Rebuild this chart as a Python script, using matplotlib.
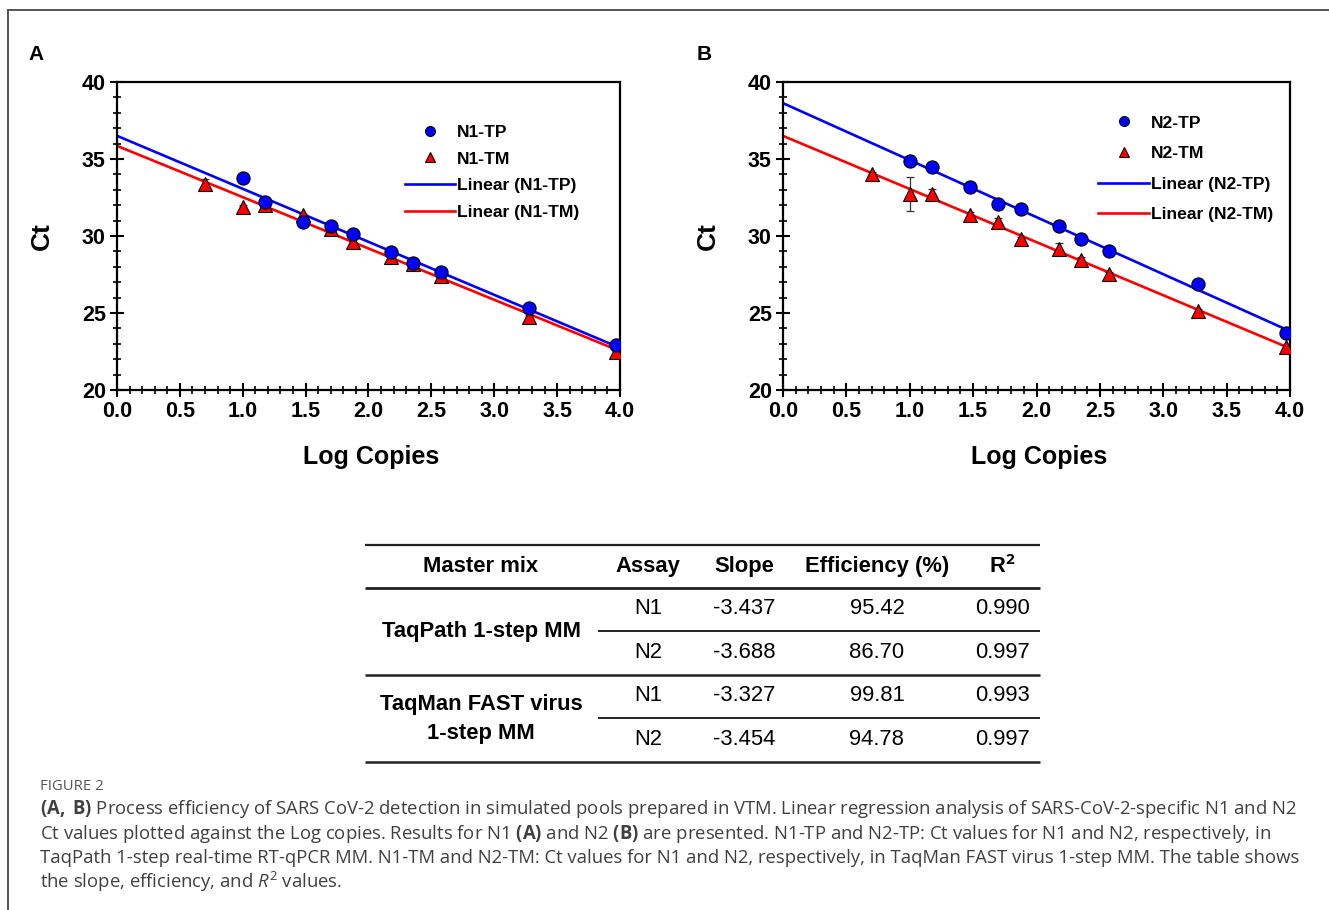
"""Figure 2: standard curves for N1 / N2 assays plus efficiency table."""
import matplotlib

matplotlib.use("Agg")
import matplotlib.pyplot as plt
from matplotlib.lines import Line2D
import numpy as np

# ---- data ----
log_copies = [0.699, 1.0, 1.176, 1.477, 1.699, 1.875, 2.176, 2.352, 2.574, 3.273, 3.97]

# panel A (N1); TP has no point at the lowest dilution
n1_tp_x = log_copies[1:]
n1_tp = [33.77, 32.2, 30.93, 30.65, 30.1, 28.98, 28.25, 27.65, 25.35, 22.92]
n1_tp_err = [0.1, 0.15, 0.1, 0.1, 0.15, 0.1, 0.15, 0.1, 0.1, 0.1]
n1_tm = [33.38, 31.9, 32.0, 31.36, 30.45, 29.63, 28.66, 28.2, 27.4, 24.75, 22.45]
n1_tm_err = [0.35, 0.1, 0.3, 0.1, 0.1, 0.15, 0.1, 0.1, 0.1, 0.1, 0.1]

# panel B (N2)
n2_tp_x = log_copies[1:]
n2_tp = [34.85, 34.45, 33.15, 32.1, 31.75, 30.65, 29.8, 29.05, 26.88, 23.72]
n2_tp_err = [0.1, 0.1, 0.1, 0.1, 0.1, 0.3, 0.35, 0.1, 0.1, 0.1]
n2_tm = [34.05, 32.75, 32.72, 31.35, 30.93, 29.81, 29.15, 28.44, 27.53, 25.15, 22.8]
n2_tm_err = [0.1, 1.1, 0.3, 0.2, 0.25, 0.1, 0.4, 0.2, 0.1, 0.1, 0.1]

# efficiency table
table_header = ["Master mix", "Assay", "Slope", "Efficiency (%)", "R$^\\mathbf{2}$"]
master_mixes = ["TaqPath 1-step MM", "TaqMan FAST virus\n1-step MM"]
assays = ["N1", "N2", "N1", "N2"]
slopes = ["-3.437", "-3.688", "-3.327", "-3.454"]
efficiencies = ["95.42", "86.70", "99.81", "94.78"]
r_squared = ["0.990", "0.997", "0.993", "0.997"]

BLUE = "#0000ff"
RED = "#ff0000"
FONT = "Liberation Sans"

plt.rcParams["font.family"] = FONT
plt.rcParams["mathtext.fontset"] = "custom"
plt.rcParams["mathtext.rm"] = "Open Sans"
plt.rcParams["mathtext.bf"] = "Open Sans:bold"
plt.rcParams["mathtext.it"] = "Open Sans:italic"

W, H = 1329, 910
fig = plt.figure(figsize=(W / 100, H / 100), dpi=100)


def px_axes(x0, y0, x1, y1):
    """Axes from pixel box (top-left origin)."""
    return fig.add_axes([x0 / W, 1 - y1 / H, (x1 - x0) / W, (y1 - y0) / H])


def draw_panel(ax, tp_x, tp, tp_err, tm, tm_err, name, leg_anchor, spacing):
    xs = np.array([0.0, 4.0])
    tp_fit = np.polyfit(tp_x, tp, 1)
    tm_fit = np.polyfit(log_copies, tm, 1)
    l_tp, = ax.plot(xs, np.polyval(tp_fit, xs), color=BLUE, lw=1.9, zorder=2)
    l_tm, = ax.plot(xs, np.polyval(tm_fit, xs), color=RED, lw=1.9, zorder=2)

    ax.errorbar(log_copies, tm, yerr=tm_err, fmt="none", ecolor="#333333",
                elinewidth=0.9, capsize=3, capthick=0.9, zorder=3)
    ax.errorbar(tp_x, tp, yerr=tp_err, fmt="none", ecolor="#333333",
                elinewidth=0.9, capsize=3, capthick=0.9, zorder=3)
    m_tm, = ax.plot(log_copies, tm, ls="none", marker="^", ms=9.5, mfc=RED,
                    mec="black", mew=0.8, zorder=4)
    m_tp, = ax.plot(tp_x, tp, ls="none", marker="o", ms=9.5, mfc=BLUE,
                    mec="black", mew=0.8, zorder=5)

    ax.set_xlim(0, 4)
    ax.set_ylim(20, 40)
    ax.set_xticks(np.arange(0, 4.01, 0.5))
    ax.set_xticks(np.arange(0, 4.01, 0.1), minor=True)
    ax.set_yticks(np.arange(20, 41, 5))
    ax.set_yticks(np.arange(20, 41, 1), minor=True)
    ax.tick_params(which="major", direction="inout", length=10, width=1.5,
                   labelsize=15.5, pad=3)
    ax.tick_params(which="minor", direction="inout", length=6, width=1.2)
    for lab in ax.get_xticklabels() + ax.get_yticklabels():
        lab.set_fontweight("bold")
    for sp in ax.spines.values():
        sp.set_linewidth(1.6)

    ax.set_ylabel("Ct", fontsize=19, fontweight="bold")
    ax.set_xlabel("Log Copies", fontsize=18, fontweight="bold")
    ax.yaxis.set_label_coords(-0.125, 0.5)
    ax.xaxis.set_label_coords(0.505, -0.18)

    ax.legend([m_tp, m_tm, l_tp, l_tm],
              [f"{name}-TP", f"{name}-TM", f"Linear ({name}-TP)", f"Linear ({name}-TM)"],
              loc="upper left", bbox_to_anchor=leg_anchor, frameon=False,
              prop={"family": FONT, "weight": "bold", "size": 12.6},
              handlelength=2.9, handletextpad=0.1, labelspacing=spacing,
              borderpad=0, borderaxespad=0, markerscale=0.75)


ax_a = px_axes(117, 82, 620, 390)
draw_panel(ax_a, n1_tp_x, n1_tp, n1_tp_err, n1_tm, n1_tm_err, "N1", (0.572, 0.862), 0.66)
ax_b = px_axes(783, 82, 1290, 390)
draw_panel(ax_b, n2_tp_x, n2_tp, n2_tp_err, n2_tm, n2_tm_err, "N2", (0.622, 0.892), 0.88)

fig.text(36 / W, 1 - 55 / H, "A", fontsize=15, fontweight="bold", ha="center", va="center")
fig.text(704 / W, 1 - 55 / H, "B", fontsize=15, fontweight="bold", ha="center", va="center")

# ---- table ----
tab = px_axes(360, 540, 1045, 767)
tab.set_xlim(360, 1045)
tab.set_ylim(767, 540)
tab.axis("off")
col_x = [481, 648, 744, 877, 1002]
row_y = [609, 653, 696, 740]
line_col = "#222222"
for y, x0, lw in [(545, 365, 1.6), (588, 365, 2.0), (631, 598, 1.4),
                  (675, 365, 1.8), (718, 598, 1.4), (762, 365, 1.8)]:
    tab.plot([x0, 1040], [y, y], color=line_col, lw=lw, solid_capstyle="butt")
for x, label in zip(col_x, table_header):
    tab.text(x, 567, label, ha="center", va="center", fontsize=15.8, fontweight="bold",
             family=FONT)
for y0, mix in zip([632, 719], master_mixes):
    tab.text(col_x[0], y0, mix, ha="center", va="center", fontsize=15.8,
             fontweight="bold", linespacing=1.45)
for i, y in enumerate(row_y):
    for x, val in zip(col_x[1:], [assays[i], slopes[i], efficiencies[i], r_squared[i]]):
        tab.text(x, y, val, ha="center", va="center", fontsize=15.8)

# ---- caption ----
cap_col = "#404040"
fig.text(40 / W, 1 - 787 / H, "FIGURE 2", fontsize=10.7, color="#555555",
         family="Open Sans", va="center")
caption = [
    r"$\mathbf{(A,}$ $\mathbf{B)}$ Process efficiency of SARS CoV-2 detection in simulated pools prepared in VTM. "
    r"Linear regression analysis of SARS-CoV-2-specific N1 and N2",
    r"Ct values plotted against the Log copies. Results for N1 $\mathbf{(A)}$ and N2 $\mathbf{(B)}$ "
    r"are presented. N1-TP and N2-TP: Ct values for N1 and N2, respectively, in",
    "TaqPath 1-step real-time RT-qPCR MM. N1-TM and N2-TM: Ct values for N1 and N2, respectively, "
    "in TaqMan FAST virus 1-step MM. The table shows",
    r"the slope, efficiency, and $\mathit{R}^2$ values.",
]
for y, line in zip([809, 834, 858, 882], caption):
    fig.text(40 / W, 1 - y / H, line, fontsize=13.35, color=cap_col,
             family="Open Sans", va="center")

# ---- page frame ----
frame = dict(color="#555555", lw=1.4, transform=fig.transFigure)
fig.add_artist(Line2D([8 / W, 1], [1 - 10 / H, 1 - 10 / H], **frame))
fig.add_artist(Line2D([8 / W, 8 / W], [0, 1 - 10 / H], **frame))

fig.savefig("out.png", dpi=100)
